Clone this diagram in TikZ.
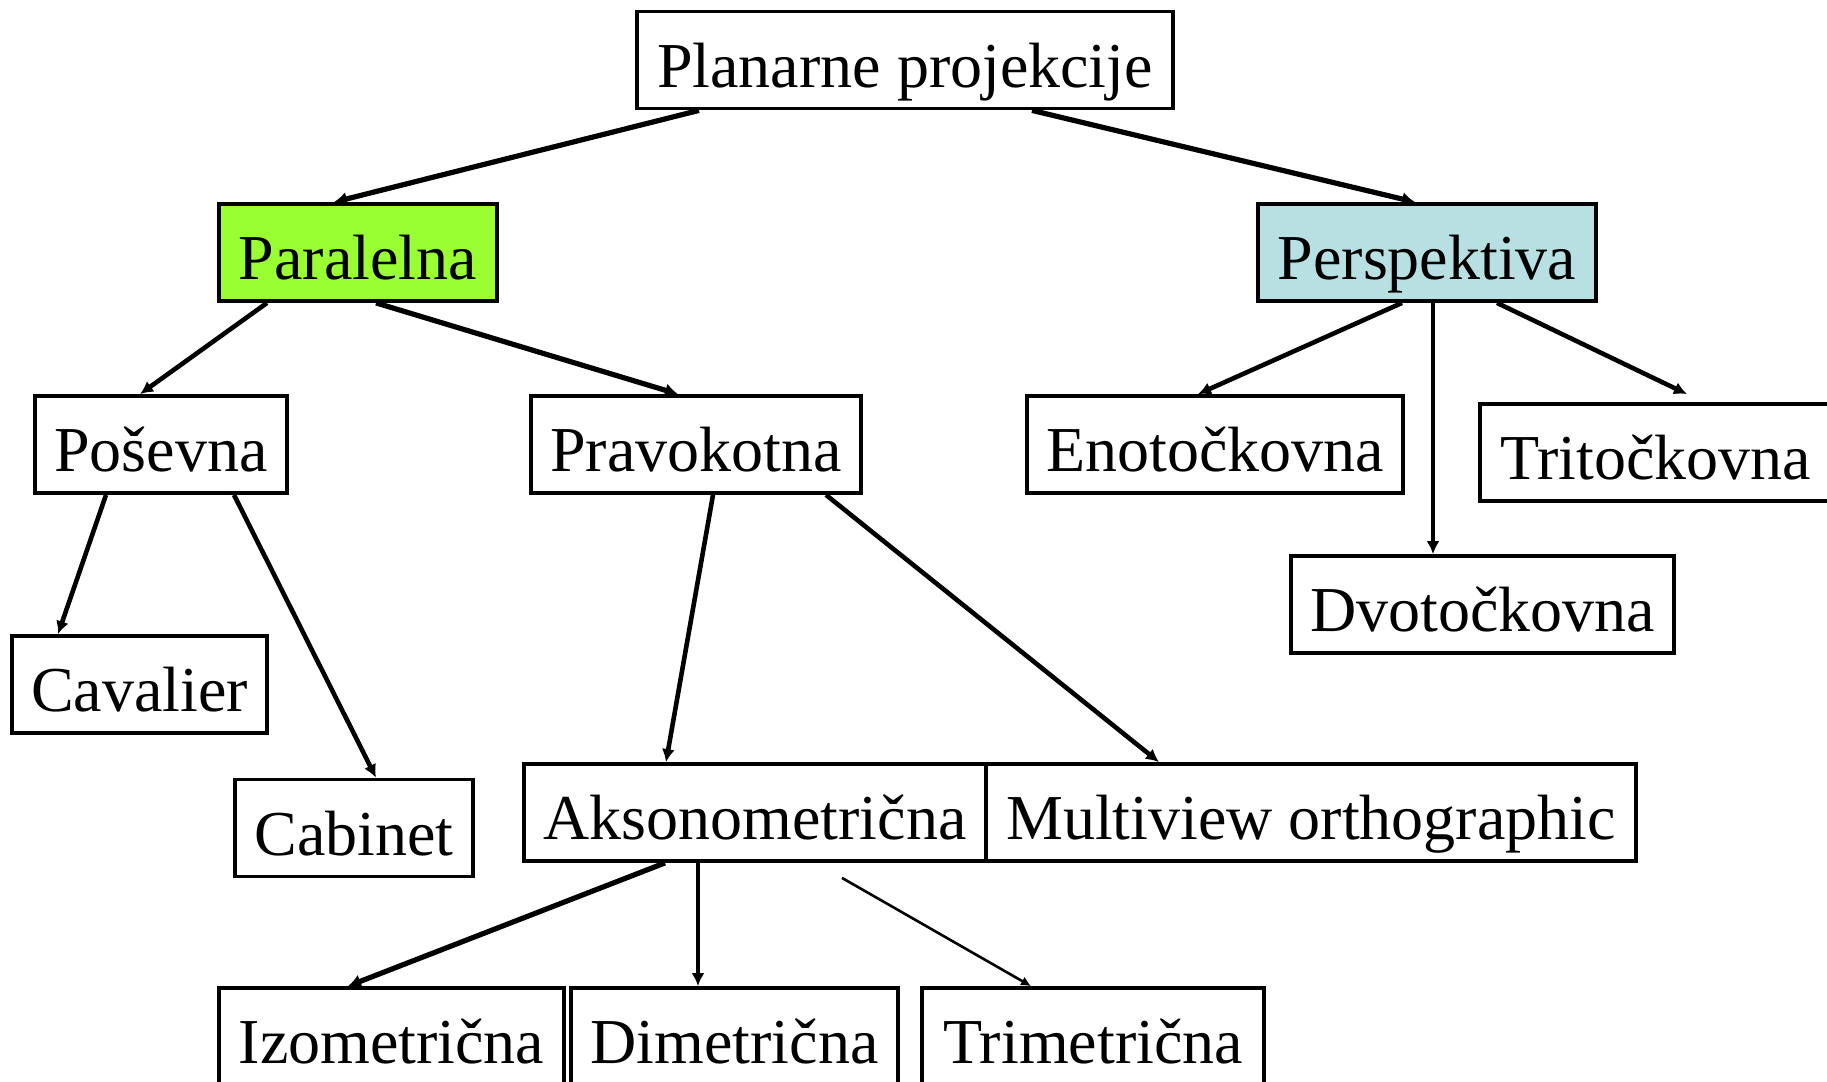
\documentclass[tikz,border=0pt]{standalone}
\usepackage{fontspec}
\setmainfont{Liberation Serif}
\usetikzlibrary{arrows.meta}
\definecolor{paragreen}{HTML}{99FF33}
\definecolor{persblue}{HTML}{B8E0E3}
\begin{document}
\begin{tikzpicture}[x=1pt,y=-1pt,
  box/.style={draw=black,line width=3.8pt,inner sep=0pt,minimum height=97pt,
    text height=60pt,text depth=6pt,
    font=\fontsize{64}{70}\selectfont,anchor=center},
  conn/.style={line width=4.6pt,-{Latex[length=13pt,width=13pt]}},
  thickconn/.style={line width=5.2pt,-{Latex[length=13pt,width=14pt]}},
  thinconn/.style={line width=2.6pt,-{Latex[length=10pt,width=10pt]}}]
\useasboundingbox[fill=white] (0,0) rectangle (1827,1081);
% nodes
\node[box,minimum width=536pt] (plan) at (905,60) {Planarne projekcije};
\node[box,fill=paragreen,minimum width=278pt] (para) at (358,252.5) {Paralelna};
\node[box,fill=persblue,minimum width=338pt] (pers) at (1427,252.5) {Perspektiva};
\node[box,minimum width=252pt] (pose) at (161,444.5) {Poševna};
\node[box,minimum width=330pt] (prav) at (696,444.5) {Pravokotna};
\node[box,minimum width=376pt] (enot) at (1215,444.5) {Enotočkovna};
\node[box,minimum width=352pt] (trit) at (1656,452.5) {Tritočkovna};
\node[box,minimum width=383pt] (dvot) at (1482.5,604.5) {Dvotočkovna};
\node[box,minimum width=255pt] (cava) at (139.5,684.5) {Cavalier};
\node[box,minimum width=238pt] (cabi) at (354,828) {Cabinet};
\node[box,minimum width=462pt] (akso) at (755,812.5) {Aksonometrična};
\node[box,minimum width=650pt] (mult) at (1311,812.5) {Multiview orthographic};
\node[box,minimum width=345pt] (izo) at (391.5,1036.5) {Izometrična};
\node[box,minimum width=327pt] (dime) at (734.5,1036.5) {Dimetrična};
\node[box,minimum width=342pt] (trim) at (1093,1036.5) {Trimetrična};
\coordinate (tfree) at ([xshift=87pt,yshift=-15pt]akso.south);
% connectors
\draw[thickconn] ([xshift=-206pt]plan.south) -- ([xshift=-24pt]para.north);
\draw[thickconn] ([xshift=127pt]plan.south) -- ([xshift=-12pt]pers.north);
\draw[conn] ([xshift=-91pt]para.south) -- ([xshift=-21pt]pose.north);
\draw[thickconn] ([xshift=18pt]para.south) -- ([xshift=-18pt]prav.north);
\draw[conn] ([xshift=-55pt]pose.south) -- ([xshift=-81.5pt]cava.north);
\draw[conn] ([xshift=73pt]pose.south) -- ([xshift=22pt]cabi.north);
\draw[conn] ([xshift=17pt]prav.south) -- ([xshift=-89pt]akso.north);
\draw[conn] ([xshift=130pt]prav.south) -- ([xshift=-152pt]mult.north);
\draw[conn] ([xshift=-25pt]pers.south) -- ([xshift=-17pt]enot.north);
\draw[conn] ([xshift=6pt]pers.south) -- ([xshift=-49.5pt]dvot.north);
\draw[conn] ([xshift=70pt]pers.south) -- ([xshift=31pt,yshift=8pt]trit.north);
\draw[thickconn] ([xshift=-90pt]akso.south) -- ([xshift=-43.5pt]izo.north);
\draw[conn] ([xshift=-57pt]akso.south) -- ([xshift=-36.5pt]dime.north);
\draw[thinconn] (tfree) -- ([xshift=-62pt]trim.north);
\end{tikzpicture}
\end{document}
